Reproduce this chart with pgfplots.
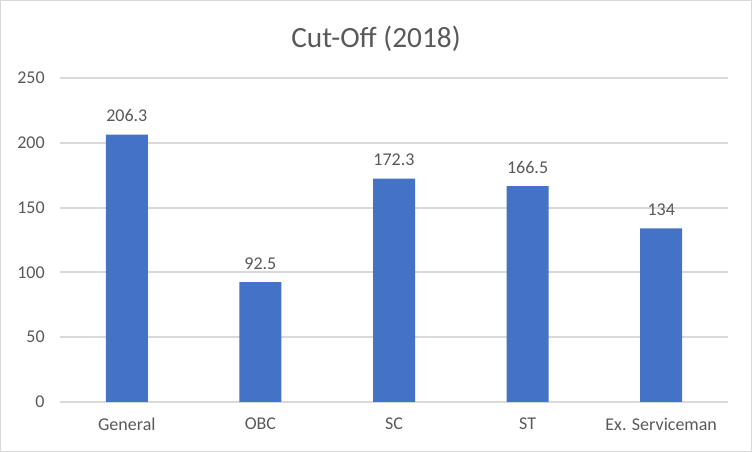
\documentclass[border=0pt]{standalone}
\usepackage{fontspec}
\setmainfont{Carlito}
\usepackage{pgfplots}
\pgfplotsset{compat=1.18}
\definecolor{barblue}{RGB}{68,114,196}
\definecolor{gridgray}{RGB}{217,217,217}
\definecolor{txtgray}{RGB}{89,89,89}

\begin{document}
\begin{tikzpicture}[x=0.75pt,y=0.75pt]
% chart frame, 752 x 452 px
\path[use as bounding box] (0,0) rectangle (752,452);
\draw[gridgray, line width=0.75pt] (0.5,0.5) rectangle (751.5,451.5);
\node[txtgray, font=\fontsize{22}{26}\selectfont] at (376,413) {Cut-Off (2018)};
\begin{axis}[
  at={(45pt,37.5pt)}, anchor=south west,
  scale only axis, width=501pt, height=243pt,
  ybar, bar width=31.5pt,
  xmin=-0.5, xmax=4.5, ymin=0, ymax=250,
  xtick={0,1,2,3,4},
  xticklabels={General,OBC,SC,ST,Ex. Serviceman},
  ytick={0,50,100,150,200,250},
  axis lines*=left, axis line style={draw=none},
  major tick length=0pt,
  ymajorgrids=true, grid style={gridgray, line width=1.5pt},
  /pgf/number format/assume math mode=true,
  tick label style={font=\fontsize{13.5}{16}\selectfont, text=txtgray},
  yticklabel style={xshift=-8pt},
  xticklabel style={yshift=-8.5pt},
  nodes near coords,
  every node near coord/.append style={font=\fontsize{13.5}{16}\selectfont, text=txtgray, yshift=6pt},
  clip=false,
]
\addplot[fill=barblue, draw=none]
  coordinates {(0,206.3) (1,92.5) (2,172.3) (3,166.5) (4,134)};
\end{axis}
\end{tikzpicture}
\end{document}
